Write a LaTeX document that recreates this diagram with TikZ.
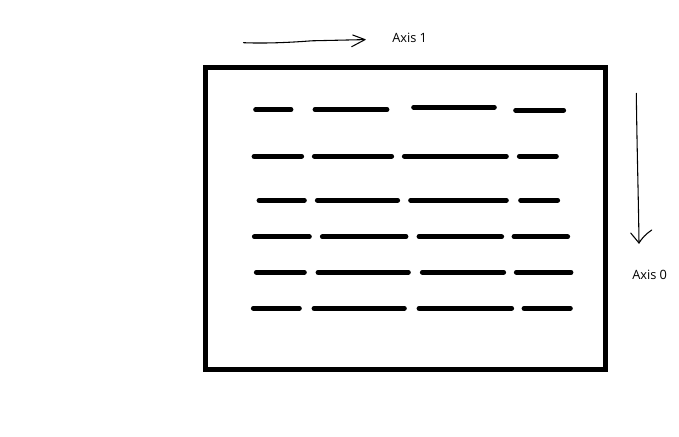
\documentclass[tikz,border=0pt]{standalone}
\usepackage{fontspec}
\setmainfont{Open Sans}
\begin{document}
\begin{tikzpicture}[x=0.75pt,y=-0.75pt,
  bar/.style={line width=3.6pt,line cap=round},
  frame/.style={line width=3.75pt},
  axisarrow/.style={line width=0.8pt,line cap=round,line join=round},
  axislabel/.style={font=\fontsize{9.6pt}{11pt}\selectfont,anchor=west,inner sep=0pt,text=black}]
\useasboundingbox (0,0) rectangle (679,436);
\draw[frame] (205.5,67.8) rectangle (605.2,369.8);
% bars: x1/y1/x2/y2
\foreach \a/\b/\c/\d in {
  255.6/109.7/291/109.7, 315/109.7/387/109.7, 413.6/107.3/494.4/107.3, 515.6/110.3/563.7/110.3,
  254/156.3/301.7/156.3, 314.3/156.3/391.7/156.3, 404.3/156.3/506.4/156.3, 519.3/156.3/556.4/156.3,
  259/200.3/304.4/200.3, 317.3/200.3/397.7/200.3, 410.6/200.3/506.4/200.3, 520.6/200.3/557.7/200.3,
  254.3/236.7/309.4/236.7, 322.3/236.7/406/236.7, 419/236.7/501.7/236.7, 514/236.7/567.7/236.7,
  256.3/272.3/304.4/272.3, 318/272.3/408.4/272.3, 422.3/272.3/503.7/272.3, 516.3/272.3/571/272.3,
  253.3/308.3/299.4/308.3, 314/308.3/404.4/308.3, 419/308.3/511.7/308.3, 524/308.3/570.4/308.3}
  \draw[bar] (\a,\b) -- (\c,\d);
% axis 1
\coordinate (t1) at (365,39.6);
\draw[axisarrow] (243.5,42.7) .. controls (265,43.6) and (290,42.5) .. (311.7,40.8) -- (t1);
\draw[axisarrow] (352.7,35) -- (t1) -- (351.7,46.7);
\node[axislabel] (ax1) at (392,37.5) {Axis 1};
% axis 0
\coordinate (t0) at (639,243);
\draw[axisarrow] (636.3,93.3) .. controls (637,150) and (638.5,200) .. (t0);
\draw[axisarrow] (630.7,233) -- (t0);
\draw[axisarrow] (651.7,230) .. controls (646,234) and (642,238) .. (t0);
\node[axislabel] (ax0) at (632,275) {Axis 0};
\end{tikzpicture}
\end{document}
